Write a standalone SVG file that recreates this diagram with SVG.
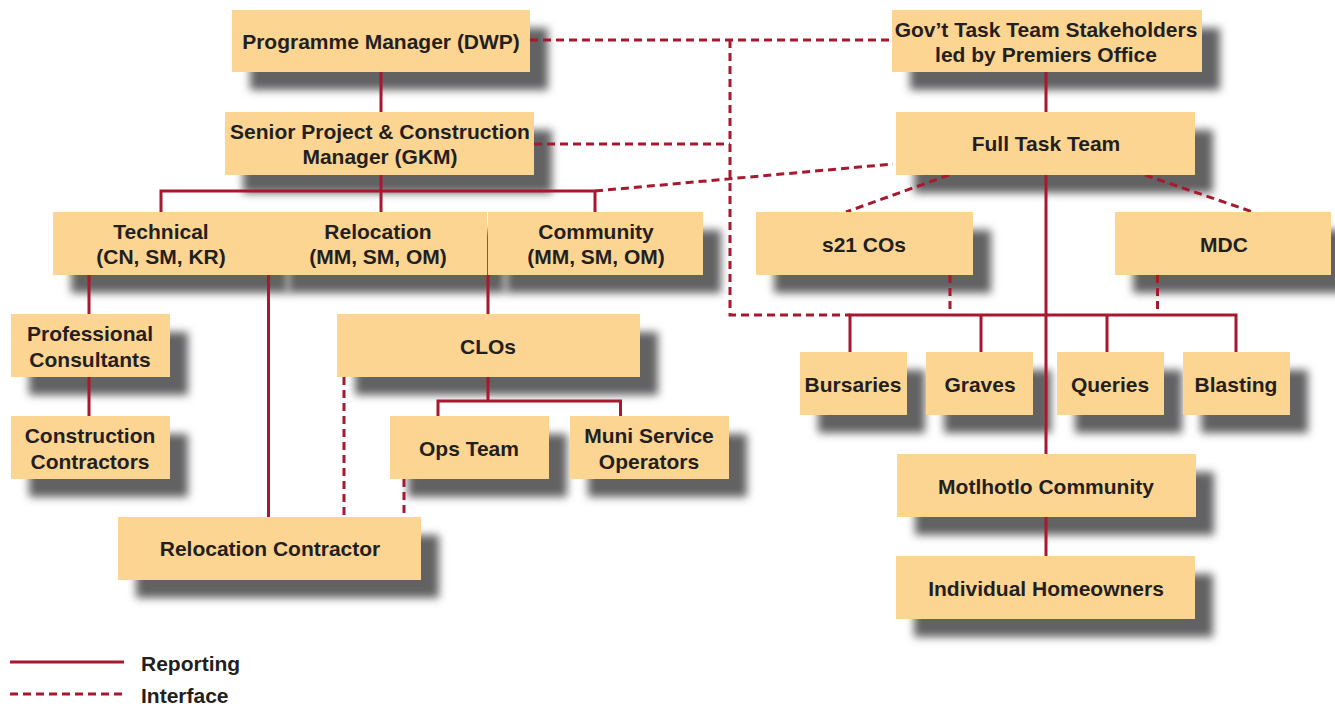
<svg xmlns="http://www.w3.org/2000/svg" width="1335" height="707" viewBox="0 0 1335 707">
<defs>
<filter id="blur" x="-20%" y="-40%" width="140%" height="180%"><feGaussianBlur stdDeviation="4"/></filter>
<style>
.sh{fill:#626264;filter:url(#blur)}
.box{fill:#FDD592}
.t{font-family:"Liberation Sans",Arial,sans-serif;font-weight:bold;font-size:21px;fill:#231f20;text-anchor:middle}
.lt{font-family:"Liberation Sans",Arial,sans-serif;font-weight:bold;font-size:21px;fill:#231f20}
.r{stroke:#A6192E;stroke-width:3;fill:none}
.d{stroke:#A6192E;stroke-width:3;fill:none;stroke-dasharray:8 5}
</style>
</defs>
<rect width="1335" height="707" fill="#ffffff"/>
<g id="shadows">
<rect class="sh" x="250" y="28" width="298" height="62"/>
<rect class="sh" x="243" y="130" width="309" height="63"/>
<rect class="sh" x="71" y="230" width="217" height="63"/>
<rect class="sh" x="288" y="230" width="217" height="63"/>
<rect class="sh" x="506" y="230" width="215" height="63"/>
<rect class="sh" x="29" y="332" width="159" height="63"/>
<rect class="sh" x="29" y="434" width="159" height="63"/>
<rect class="sh" x="355" y="332" width="303" height="63"/>
<rect class="sh" x="408" y="434" width="159" height="63"/>
<rect class="sh" x="588" y="434" width="159" height="63"/>
<rect class="sh" x="136" y="535" width="303" height="63"/>
<rect class="sh" x="910" y="28" width="310" height="62"/>
<rect class="sh" x="914" y="130" width="299" height="63"/>
<rect class="sh" x="774" y="230" width="217" height="63"/>
<rect class="sh" x="1133" y="230" width="216" height="63"/>
<rect class="sh" x="818" y="370" width="107" height="63"/>
<rect class="sh" x="944" y="370" width="107" height="63"/>
<rect class="sh" x="1075" y="370" width="107" height="63"/>
<rect class="sh" x="1201" y="370" width="107" height="63"/>
<rect class="sh" x="915" y="472" width="299" height="63"/>
<rect class="sh" x="914" y="574" width="299" height="63"/>
</g>
<g id="connectors">
<path class="r" d="M381 72V112M381 175V212M161 212V191H595V212M89 275V314M89 377V416M268.5 275V517M488 275V314M488 377V401M438 416V401H620.5V416"/>
<path class="r" d="M1046 72V112M1046 175V455M850 352V315H1236V352M981 315V352M1107 315V352M1046 556V517"/>
<path class="d" d="M530 40H893M534 144H730M730 40V315H850M595 191L893 164M344 377V517M404 479V517M949 175L846 212M1145 175L1253 212M950 275V315M1157.5 275V315"/>
</g>
<g id="n-prog"><rect class="box" x="232" y="10" width="298" height="62"/><text class="t" x="381" y="49">Programme Manager (DWP)</text></g>
<g id="n-gkm"><rect class="box" x="225" y="112" width="309" height="63"/><text class="t" x="380" y="139">Senior Project &amp; Construction</text><text class="t" x="380" y="164">Manager (GKM)</text></g>
<g id="n-tech"><rect class="box" x="53" y="212" width="217" height="63"/><text class="t" x="161" y="239">Technical</text><text class="t" x="161" y="264">(CN, SM, KR)</text></g>
<g id="n-reloc"><rect class="box" x="270" y="212" width="217" height="63"/><text class="t" x="378" y="239">Relocation</text><text class="t" x="378" y="264">(MM, SM, OM)</text></g>
<g id="n-comm"><rect class="box" x="488" y="212" width="215" height="63"/><text class="t" x="596" y="239">Community</text><text class="t" x="596" y="264">(MM, SM, OM)</text></g>
<g id="n-prof"><rect class="box" x="11" y="314" width="159" height="63"/><text class="t" x="90" y="341">Professional</text><text class="t" x="90" y="367">Consultants</text></g>
<g id="n-cons"><rect class="box" x="11" y="416" width="159" height="63"/><text class="t" x="90" y="443">Construction</text><text class="t" x="90" y="469">Contractors</text></g>
<g id="n-clos"><rect class="box" x="337" y="314" width="303" height="63"/><text class="t" x="488" y="354">CLOs</text></g>
<g id="n-ops"><rect class="box" x="390" y="416" width="159" height="63"/><text class="t" x="469" y="456">Ops Team</text></g>
<g id="n-muni"><rect class="box" x="570" y="416" width="159" height="63"/><text class="t" x="649" y="443">Muni Service</text><text class="t" x="649" y="469">Operators</text></g>
<g id="n-rcon"><rect class="box" x="118" y="517" width="303" height="63"/><text class="t" x="270" y="556">Relocation Contractor</text></g>
<g id="n-gov"><rect class="box" x="892" y="10" width="310" height="62"/><text class="t" x="1046" y="37">Gov’t Task Team Stakeholders</text><text class="t" x="1046" y="62">led by Premiers Office</text></g>
<g id="n-full"><rect class="box" x="896" y="112" width="299" height="63"/><text class="t" x="1046" y="151">Full Task Team</text></g>
<g id="n-s21"><rect class="box" x="756" y="212" width="217" height="63"/><text class="t" x="864" y="252">s21 COs</text></g>
<g id="n-mdc"><rect class="box" x="1115" y="212" width="216" height="63"/><text class="t" x="1224" y="252">MDC</text></g>
<g id="n-burs"><rect class="box" x="800" y="352" width="107" height="63"/><text class="t" x="853" y="392">Bursaries</text></g>
<g id="n-grav"><rect class="box" x="926" y="352" width="107" height="63"/><text class="t" x="980" y="392">Graves</text></g>
<g id="n-quer"><rect class="box" x="1057" y="352" width="107" height="63"/><text class="t" x="1110" y="392">Queries</text></g>
<g id="n-blas"><rect class="box" x="1183" y="352" width="107" height="63"/><text class="t" x="1236" y="392">Blasting</text></g>
<g id="n-motl"><rect class="box" x="897" y="454" width="299" height="63"/><text class="t" x="1046" y="494">Motlhotlo Community</text></g>
<g id="n-indiv"><rect class="box" x="896" y="556" width="299" height="63"/><text class="t" x="1046" y="596">Individual Homeowners</text></g>
<g id="legend">
<line class="r" x1="10" y1="662" x2="124" y2="662"/>
<line class="d" x1="10" y1="694" x2="124" y2="694"/>
<text class="lt" x="141" y="671">Reporting</text>
<text class="lt" x="141" y="703">Interface</text>
</g>
</svg>
